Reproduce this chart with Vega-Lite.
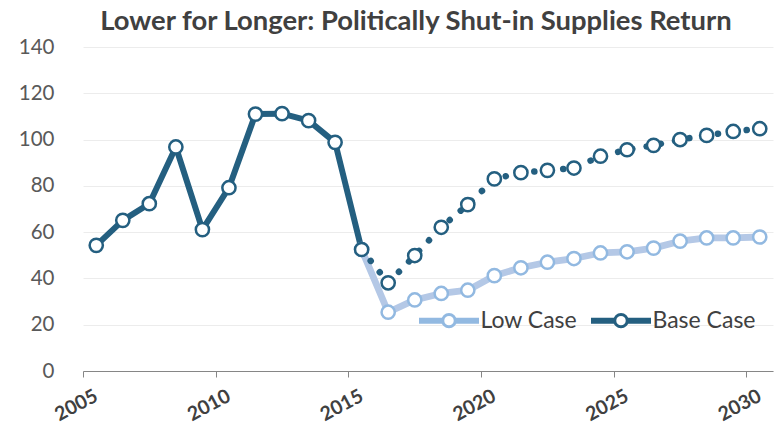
{
  "$schema": "https://vega.github.io/schema/vega-lite/v6.json",
  "width": 690,
  "height": 324,
  "autosize": {"type": "none"},
  "padding": {"left": 83, "top": 47, "right": 6, "bottom": 61},
  "background": "white",
  "config": {"font": "Lato", "view": {"stroke": null}},
  "title": {
    "text": "Lower for Longer: Politically Shut-in Supplies Return",
    "font": "Lato", "fontSize": 27.4, "fontWeight": "bold", "color": "#404040",
    "anchor": "middle", "frame": "group", "dx": -12, "offset": 2
  },
  "data": {
    "values": [
      {"year": "2015", "series": "Low Case", "value": 52.5},
      {"year": "2016", "series": "Low Case", "value": 25.4},
      {"year": "2017", "series": "Low Case", "value": 30.7},
      {"year": "2018", "series": "Low Case", "value": 33.5},
      {"year": "2019", "series": "Low Case", "value": 34.9},
      {"year": "2020", "series": "Low Case", "value": 41.2},
      {"year": "2021", "series": "Low Case", "value": 44.6},
      {"year": "2022", "series": "Low Case", "value": 47.0},
      {"year": "2023", "series": "Low Case", "value": 48.6},
      {"year": "2024", "series": "Low Case", "value": 51.0},
      {"year": "2025", "series": "Low Case", "value": 51.5},
      {"year": "2026", "series": "Low Case", "value": 53.1},
      {"year": "2027", "series": "Low Case", "value": 56.1},
      {"year": "2028", "series": "Low Case", "value": 57.5},
      {"year": "2029", "series": "Low Case", "value": 57.5},
      {"year": "2030", "series": "Low Case", "value": 57.9},
      {"year": "2005", "series": "Base Case", "value": 54.3},
      {"year": "2006", "series": "Base Case", "value": 65.1},
      {"year": "2007", "series": "Base Case", "value": 72.3},
      {"year": "2008", "series": "Base Case", "value": 96.8},
      {"year": "2009", "series": "Base Case", "value": 61.1},
      {"year": "2010", "series": "Base Case", "value": 79.2},
      {"year": "2011", "series": "Base Case", "value": 111.0},
      {"year": "2012", "series": "Base Case", "value": 111.2},
      {"year": "2013", "series": "Base Case", "value": 108.2},
      {"year": "2014", "series": "Base Case", "value": 98.8},
      {"year": "2015", "series": "Base Case", "value": 52.5},
      {"year": "2016", "series": "Base Case", "value": 38.1},
      {"year": "2017", "series": "Base Case", "value": 49.9},
      {"year": "2018", "series": "Base Case", "value": 62.1},
      {"year": "2019", "series": "Base Case", "value": 71.9},
      {"year": "2020", "series": "Base Case", "value": 83.0},
      {"year": "2021", "series": "Base Case", "value": 85.7},
      {"year": "2022", "series": "Base Case", "value": 86.7},
      {"year": "2023", "series": "Base Case", "value": 87.7},
      {"year": "2024", "series": "Base Case", "value": 92.8},
      {"year": "2025", "series": "Base Case", "value": 95.6},
      {"year": "2026", "series": "Base Case", "value": 97.5},
      {"year": "2027", "series": "Base Case", "value": 100.0},
      {"year": "2028", "series": "Base Case", "value": 101.8},
      {"year": "2029", "series": "Base Case", "value": 103.5},
      {"year": "2030", "series": "Base Case", "value": 104.7}
    ]
  },
  "encoding": {
    "x": {
      "field": "year", "timeUnit": "utcyear", "type": "temporal", "bandPosition": 0.5,
      "scale": {"domain": [{"year": 2005, "utc": true}, {"year": 2031, "utc": true}]},
      "axis": {
        "title": null,
        "values": [
          {"year": 2005, "utc": true}, {"year": 2010, "utc": true}, {"year": 2015, "utc": true},
          {"year": 2020, "utc": true}, {"year": 2025, "utc": true}, {"year": 2030, "utc": true}
        ],
        "format": "%Y",
        "grid": false,
        "labelAngle": -28, "labelAlign": "center", "labelBaseline": "middle",
        "labelFont": "Lato", "labelFontSize": 19.5, "labelFontWeight": "bold", "labelColor": "#404040",
        "labelPadding": 28, "labelOffset": -7, "labelFlush": false, "labelOverlap": false, "labelBound": false,
        "ticks": true, "tickSize": 6, "tickColor": "#868686", "domainColor": "#868686", "domainWidth": 1
      }
    },
    "y": {
      "field": "value", "type": "quantitative",
      "scale": {"domain": [0, 140]},
      "axis": {
        "title": null,
        "values": [0, 20, 40, 60, 80, 100, 120, 140],
        "grid": true, "gridColor": "#ECECEC", "gridWidth": 1,
        "domain": false, "ticks": false,
        "labelPadding": 29, "labelFont": "Lato", "labelFontSize": 20.5, "labelColor": "#595959"
      }
    }
  },
  "layer": [
    {
      "transform": [{"filter": "datum.series === 'Low Case'"}],
      "mark": {"type": "line", "strokeWidth": 6.8, "strokeJoin": "round", "stroke": "#B4C8E6"},
      "encoding": {}
    },
    {
      "transform": [{"filter": "datum.series === 'Base Case' && utcyear(toDate(datum.year)) <= 2015"}],
      "mark": {"type": "line", "strokeWidth": 6, "strokeJoin": "round", "stroke": "#245F80"},
      "encoding": {}
    },
    {
      "transform": [{"filter": "datum.series === 'Base Case' && utcyear(toDate(datum.year)) >= 2015"}],
      "mark": {"type": "line", "strokeWidth": 6.5, "strokeDash": [0.1, 14.4], "strokeCap": "round", "strokeJoin": "round", "stroke": "#245F80"},
      "encoding": {}
    },
    {
      "mark": {"type": "point", "shape": "circle", "filled": false, "fill": "white", "strokeWidth": 2.5, "size": 175, "opacity": 1},
      "encoding": {
        "color": {
          "field": "series", "type": "nominal",
          "scale": {"domain": ["Low Case", "Base Case"], "range": ["#92B9E1", "#245F80"]},
          "legend": {
            "title": null, "orient": "none", "legendX": 334.5, "legendY": 242, "direction": "horizontal",
            "symbolType": "M-0.95,-0.05L-0.26,-0.05L-0.26,0.05L-0.95,0.05Z M0.26,-0.05L0.95,-0.05L0.95,0.05L0.26,0.05Z M0.208,0A0.208,0.208,0,1,1,-0.208,0A0.208,0.208,0,1,1,0.208,0Z",
            "symbolSize": 3600, "symbolStrokeWidth": 3, "symbolFillColor": "white", "symbolOpacity": 1,
            "labelFont": "Lato", "labelFontSize": 23, "labelColor": "#404040",
            "labelOffset": 0, "columnPadding": 9, "padding": 0
          }
        }
      }
    }
  ]
}
